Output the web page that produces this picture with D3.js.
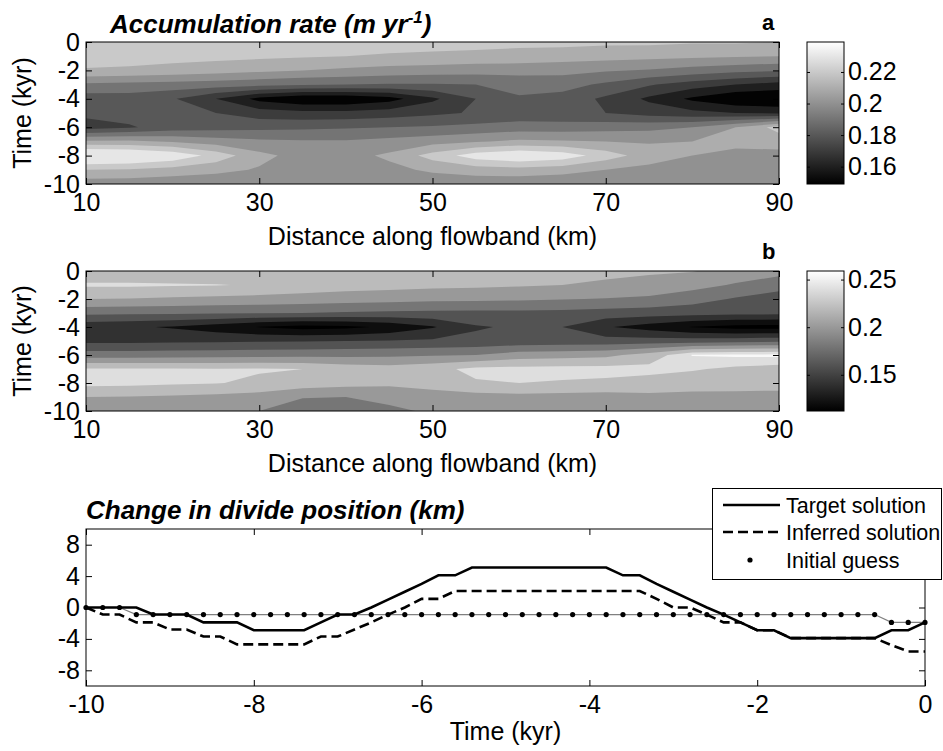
<!DOCTYPE html>
<html>
<head>
<meta charset="utf-8">
<script src="https://cdn.jsdelivr.net/npm/d3@7"></script>
<style>
  body { margin: 0; background: #fff; }
  svg { display: block; font-family: "Liberation Sans", Arial, sans-serif; }
</style>
</head>
<body>
<svg id="chart"></svg>
<script>
// grid of the two accumulation maps
const distance = [10, 15, 20, 25, 30, 35, 40, 45, 50, 55, 60, 65, 70, 75, 80, 85, 90];
const time = [0, -1, -2, -3, -4, -5, -6, -7, -8, -9, -10];

// panel a: target accumulation rate (m/yr), one row per time
const accumTarget = [
  [.226, .226, .226, .226, .225, .225, .225, .224, .224, .224, .223, .223, .222, .222, .221, .221, .220],
  [.225, .225, .224, .223, .222, .221, .220, .219, .218, .217, .216, .215, .214, .213, .212, .211, .210],
  [.219, .218, .216, .214, .212, .210, .208, .206, .205, .204, .204, .203, .201, .199, .196, .193, .191],
  [.198, .197, .196, .195, .193, .191, .190, .189, .189, .190, .193, .194, .188, .181, .175, .170, .166],
  [.185, .185, .181, .170, .157, .151, .151, .156, .168, .180, .189, .186, .178, .168, .158, .151, .150],
  [.183, .184, .185, .180, .175, .173, .173, .175, .178, .181, .183, .182, .180, .176, .173, .170, .168],
  [.175, .179, .184, .186, .187, .188, .189, .190, .191, .193, .195, .195, .196, .197, .200, .210, .224],
  [.212, .212, .209, .205, .202, .201, .201, .203, .206, .209, .212, .211, .210, .209, .210, .212, .214],
  [.246, .244, .238, .226, .213, .206, .206, .212, .224, .235, .240, .236, .225, .215, .210, .208, .207],
  [.220, .219, .216, .213, .209, .205, .205, .207, .212, .215, .216, .214, .210, .207, .205, .204, .204],
  [.204, .204, .203, .202, .201, .200, .200, .201, .202, .203, .203, .202, .201, .200, .200, .200, .200]
];

// panel b: inferred accumulation rate (m/yr)
const accumInferred = [
  [.225, .225, .224, .224, .223, .223, .222, .222, .222, .222, .222, .222, .223, .222, .221, .212, .206],
  [.243, .243, .242, .241, .238, .233, .229, .227, .225, .224, .222, .220, .218, .215, .207, .198, .190],
  [.220, .219, .217, .215, .213, .211, .209, .207, .205, .204, .203, .201, .199, .196, .188, .178, .168],
  [.185, .184, .183, .182, .181, .180, .178, .176, .175, .175, .175, .174, .172, .170, .168, .166, .165],
  [.146, .143, .138, .130, .119, .113, .115, .124, .138, .158, .163, .160, .142, .131, .119, .113, .112],
  [.155, .155, .156, .157, .158, .159, .160, .161, .163, .165, .167, .168, .168, .169, .170, .172, .175],
  [.190, .190, .191, .192, .193, .194, .195, .196, .198, .200, .210, .212, .215, .228, .256, .258, .259],
  [.242, .242, .242, .241, .242, .240, .232, .229, .234, .245, .246, .247, .247, .246, .242, .236, .232],
  [.246, .245, .243, .241, .236, .231, .227, .225, .232, .238, .240, .238, .236, .232, .228, .227, .226],
  [.220, .219, .217, .215, .212, .201, .200, .204, .207, .212, .214, .213, .212, .215, .215, .215, .215],
  [.205, .205, .204, .203, .200, .190, .189, .197, .202, .203, .204, .204, .204, .204, .204, .205, .205]
];

const levelsA = [0.15, 0.16, 0.17, 0.18, 0.19, 0.20, 0.21, 0.22, 0.23];
const levelsB = [0.12, 0.14, 0.16, 0.18, 0.20, 0.22, 0.24, 0.255];
const climA = [0.149, 0.239];
const climB = [0.112, 0.259];
const ticksA = [0.16, 0.18, 0.2, 0.22];
const ticksB = [0.15, 0.2, 0.25];

// panel c: change in divide position (km), every 0.2 kyr
const divideTime = [-10, -9.8, -9.6, -9.4, -9.2, -9, -8.8, -8.6, -8.4, -8.2, -8, -7.8, -7.6, -7.4, -7.2, -7,
  -6.8, -6.6, -6.4, -6.2, -6, -5.8, -5.6, -5.4, -5.2, -5, -4.8, -4.6, -4.4, -4.2, -4, -3.8, -3.6, -3.4,
  -3.2, -3, -2.8, -2.6, -2.4, -2.2, -2, -1.8, -1.6, -1.4, -1.2, -1, -0.8, -0.6, -0.4, -0.2, 0];
const targetSolution = [0, 0, 0, 0, -0.9, -0.9, -0.9, -1.9, -1.9, -1.9, -2.9, -2.9, -2.9, -2.9, -1.9, -0.9,
  -0.9, 0, 1, 2, 3, 4.1, 4.1, 5.1, 5.1, 5.1, 5.1, 5.1, 5.1, 5.1, 5.1, 5.1, 4.1, 4.1,
  3, 2, 1, 0, -0.9, -1.9, -2.9, -2.9, -3.9, -3.9, -3.9, -3.9, -3.9, -3.9, -2.9, -2.9, -1.9];
const inferredSolution = [0, -0.9, -0.9, -1.9, -1.9, -2.8, -2.8, -3.7, -3.7, -4.7, -4.7, -4.7, -4.7, -4.7, -3.7, -3.7,
  -2.8, -1.9, -0.9, 0, 1.1, 1.1, 2.1, 2.1, 2.1, 2.1, 2.1, 2.1, 2.1, 2.1, 2.1, 2.1, 2.1, 2.1,
  1.1, 0, 0, -0.9, -1.9, -1.9, -2.9, -2.9, -3.9, -3.9, -3.9, -3.9, -3.9, -3.9, -4.8, -5.6, -5.6];
const initialGuess = [0, 0, 0, -0.9, -0.9, -0.9, -0.9, -0.9, -0.9, -0.9, -0.9, -0.9, -0.9, -0.9, -0.9, -0.9,
  -0.9, -0.9, -0.9, -0.9, -0.9, -0.9, -0.9, -0.9, -0.9, -0.9, -0.9, -0.9, -0.9, -0.9, -0.9, -0.9, -0.9, -0.9,
  -0.9, -0.9, -0.9, -0.9, -0.9, -0.9, -0.9, -0.9, -0.9, -0.9, -0.9, -0.9, -0.9, -0.9, -1.9, -1.9, -1.9];

const width = 943, height = 751;
const svg = d3.select("#chart").attr("width", width).attr("height", height);
const FS = 25;

// inward ticks on all four sides, labels on left/bottom
function frame(g, x, y, xTicks, yTicks, left, right, top, bottom) {
  g.append("g").attr("transform", `translate(0,${bottom})`)
    .call(d3.axisBottom(x).tickValues(xTicks).tickSize(-6).tickPadding(9).tickFormat(d3.format("d")));
  g.append("g").attr("transform", `translate(0,${top})`)
    .call(d3.axisTop(x).tickValues(xTicks).tickSize(-6).tickFormat(""));
  g.append("g").attr("transform", `translate(${left},0)`)
    .call(d3.axisLeft(y).tickValues(yTicks).tickSize(-6).tickPadding(6).tickFormat(d3.format("d")));
  g.append("g").attr("transform", `translate(${right},0)`)
    .call(d3.axisRight(y).tickValues(yTicks).tickSize(-6).tickFormat(""));
  g.selectAll(".domain").remove();
  g.selectAll(".tick line").attr("stroke", "#000");
  g.selectAll(".tick text").attr("font-size", FS).attr("font-family", "Liberation Sans, Arial, sans-serif").attr("fill", "#000");
  g.append("rect").attr("x", left).attr("y", top).attr("width", right - left).attr("height", bottom - top)
    .attr("fill", "none").attr("stroke", "#000").attr("stroke-width", 1);
}

function contourPanel(id, values, levels, clim, cticks, top, bottom, letter) {
  const left = 86, right = 779;
  const x = d3.scaleLinear().domain([10, 90]).range([left, right]);
  const y = d3.scaleLinear().domain([0, -10]).range([top, bottom]);
  const color = d3.scaleLinear().domain(clim).range(["#000", "#fff"]);
  const g = svg.append("g");

  g.append("clipPath").attr("id", "clip" + id)
    .append("rect").attr("x", left).attr("y", top).attr("width", right - left).attr("height", bottom - top);

  // grid samples sit at cell centres in d3.contours space
  const n = distance.length, m = time.length;
  const gx = d3.scaleLinear().domain([0.5, n - 0.5]).range([x(distance[0]), x(distance[n - 1])]);
  const gy = d3.scaleLinear().domain([0.5, m - 0.5]).range([y(time[0]), y(time[m - 1])]);
  const path = d3.geoPath(d3.geoTransform({
    point(px, py) { this.stream.point(gx(px), gy(py)); }
  }));
  const contours = d3.contours().size([n, m]).thresholds(levels)(values.flat());

  const cg = g.append("g").attr("clip-path", `url(#clip${id})`);
  cg.append("rect").attr("x", left).attr("y", top).attr("width", right - left).attr("height", bottom - top)
    .attr("fill", color(clim[0]));
  cg.selectAll("path").data(contours).join("path")
    .attr("d", path)
    .attr("fill", d => color(d.value));

  frame(g, x, y, [10, 30, 50, 70, 90], [0, -2, -4, -6, -8, -10], left, right, top, bottom);

  g.append("text").attr("transform", `translate(31,${(top + bottom) / 2}) rotate(-90)`)
    .attr("text-anchor", "middle").attr("font-size", FS).text("Time (kyr)");
  g.append("text").attr("x", (left + right) / 2).attr("y", bottom + 61)
    .attr("text-anchor", "middle").attr("font-size", FS).text("Distance along flowband (km)");
  g.append("text").attr("x", 762).attr("y", top - 12)
    .attr("font-size", 22).attr("font-weight", "bold").text(letter);

  // colorbar
  const cbx = 807, cbw = 37;
  const grad = svg.append("defs").append("linearGradient").attr("id", "grad" + id)
    .attr("x1", 0).attr("y1", 1).attr("x2", 0).attr("y2", 0);
  grad.append("stop").attr("offset", 0).attr("stop-color", "#000");
  grad.append("stop").attr("offset", 1).attr("stop-color", "#fff");
  const cy = d3.scaleLinear().domain(clim).range([bottom, top]);
  g.append("rect").attr("x", cbx).attr("y", top).attr("width", cbw).attr("height", bottom - top)
    .attr("fill", `url(#grad${id})`);
  const cbl = g.append("g").attr("transform", `translate(${cbx},0)`)
    .call(d3.axisLeft(cy).tickValues(cticks).tickSize(-3).tickFormat(""));
  const cbr = g.append("g").attr("transform", `translate(${cbx + cbw},0)`)
    .call(d3.axisRight(cy).tickValues(cticks).tickSize(-3).tickPadding(4).tickFormat(d => String(d)));
  cbl.select(".domain").remove();
  cbr.select(".domain").remove();
  g.selectAll(".tick line").attr("stroke", "#000");
  cbr.selectAll("text").attr("font-size", FS).attr("fill", "#000").attr("font-family", "Liberation Sans, Arial, sans-serif");
  g.append("rect").attr("x", cbx).attr("y", top).attr("width", cbw).attr("height", bottom - top)
    .attr("fill", "none").attr("stroke", "#000");
}

contourPanel("a", accumTarget, levelsA, climA, ticksA, 42, 184, "a");
contourPanel("b", accumInferred, levelsB, climB, ticksB, 271, 411, "b");

// title of panel a
const t1 = svg.append("text").attr("x", 110).attr("y", 33)
  .attr("font-size", 26).attr("font-weight", "bold").attr("font-style", "italic");
t1.append("tspan").text("Accumulation rate (m yr");
t1.append("tspan").attr("dy", -10).attr("font-size", 17).text("-1");
t1.append("tspan").attr("dy", 10).text(")");

// panel c
{
  const left = 86, right = 925, top = 529, bottom = 686;
  const x = d3.scaleLinear().domain([-10, 0]).range([left, right]);
  const y = d3.scaleLinear().domain([-10, 10]).range([bottom, top]);
  const g = svg.append("g");

  const line = d3.line().x((d, i) => x(divideTime[i])).y(d => y(d));

  g.append("path").datum(initialGuess).attr("d", line)
    .attr("fill", "none").attr("stroke", "#808080").attr("stroke-width", 1.2);
  g.append("g").selectAll("circle").data(initialGuess).join("circle")
    .attr("cx", (d, i) => x(divideTime[i])).attr("cy", d => y(d)).attr("r", 2.6).attr("fill", "#000");
  g.append("path").datum(inferredSolution).attr("d", line)
    .attr("fill", "none").attr("stroke", "#000").attr("stroke-width", 2.6).attr("stroke-dasharray", "10,5");
  g.append("path").datum(targetSolution).attr("d", line)
    .attr("fill", "none").attr("stroke", "#000").attr("stroke-width", 2.6);

  frame(g, x, y, [-10, -8, -6, -4, -2, 0], [-8, -4, 0, 4, 8], left, right, top, bottom);

  g.append("text").attr("x", (left + right) / 2).attr("y", 740)
    .attr("text-anchor", "middle").attr("font-size", FS).text("Time (kyr)");
  g.append("text").attr("x", 86).attr("y", 519)
    .attr("font-size", 26).attr("font-weight", "bold").attr("font-style", "italic")
    .text("Change in divide position (km)");

  // legend
  const lg = svg.append("g");
  lg.append("rect").attr("x", 712.5).attr("y", 488.5).attr("width", 229).attr("height", 91)
    .attr("fill", "#fff").attr("stroke", "#000");
  const entries = [
    {label: "Target solution", y: 505, dash: null},
    {label: "Inferred solution", y: 532, dash: "10,5"},
    {label: "Initial guess", y: 560, dash: "dot"}
  ];
  entries.forEach(e => {
    if (e.dash === "dot") {
      lg.append("circle").attr("cx", 750).attr("cy", e.y).attr("r", 2.6).attr("fill", "#000");
    } else {
      lg.append("line").attr("x1", 723).attr("x2", 780).attr("y1", e.y).attr("y2", e.y)
        .attr("stroke", "#000").attr("stroke-width", 2.6).attr("stroke-dasharray", e.dash);
    }
    lg.append("text").attr("x", 786).attr("y", e.y + 8).attr("font-size", 21.5).text(e.label);
  });
}

// minus signs as plain hyphens, like the original
svg.selectAll(".tick text").text(function() { return this.textContent.replace(/−/g, "-"); });
</script>
</body>
</html>
